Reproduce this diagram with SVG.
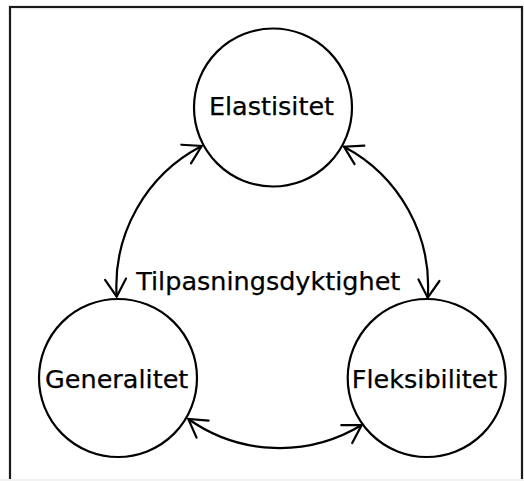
<svg xmlns="http://www.w3.org/2000/svg" width="524" height="481" viewBox="0 0 524 481">
  <style>
    .node { fill: #ffffff; stroke: #000000; stroke-width: 2.2; }
    .label { font-family: "DejaVu Sans", Verdana, sans-serif; font-size: 25.5px; fill: #000000; text-anchor: middle; stroke: #000000; stroke-width: 0.25; }
    .conn { fill: none; stroke: #000000; stroke-width: 2.2; marker-start: url(#arrow); marker-end: url(#arrow); }
  </style>
  <defs>
    <marker id="arrow" markerUnits="userSpaceOnUse" orient="auto-start-reverse" refX="0" refY="0" markerWidth="24" markerHeight="24" overflow="visible">
      <path d="M -17.5 -10.5 L 0 0 L -17.5 10.5" fill="none" stroke="#000000" stroke-width="2.2" stroke-linecap="round" stroke-linejoin="miter"/>
    </marker>
  </defs>
  <rect x="0" y="0" width="524" height="481" fill="#ffffff"/>
  <rect x="10" y="7" width="512" height="485" fill="none" stroke="#1a1a1a" stroke-width="2.2"/>
  <rect x="0" y="479" width="524" height="2" fill="#f2f2f2"/>

  <g id="connectors">
    <path class="conn" d="M 116.7 296.7 A 158 158 0 0 1 201.7 146"/>
    <path class="conn" d="M 344 146.7 A 158 158 0 0 1 427.7 297.7"/>
    <path class="conn" d="M 361.7 425 A 158 158 0 0 1 188.3 419"/>
  </g>

  <g id="node-elastisitet">
    <circle class="node" cx="273" cy="107.5" r="79"/>
    <text class="label" x="271.5" y="115">Elastisitet</text>
  </g>
  <g id="node-generalitet">
    <circle class="node" cx="118" cy="378" r="79"/>
    <text class="label" x="116.7" y="387.7">Generalitet</text>
  </g>
  <g id="node-fleksibilitet">
    <circle class="node" cx="426.7" cy="378" r="79"/>
    <text class="label" x="424.7" y="388">Fleksibilitet</text>
  </g>
  <g id="label-tilpasningsdyktighet">
    <text class="label" x="268.3" y="290">Tilpasningsdyktighet</text>
  </g>
</svg>
